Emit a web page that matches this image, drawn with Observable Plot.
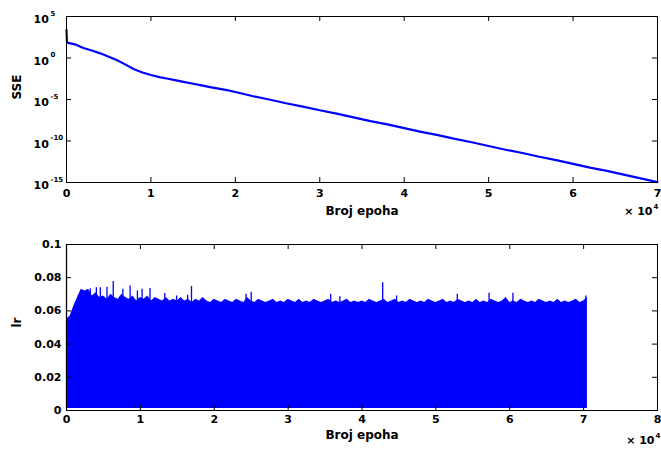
<!DOCTYPE html>
<html>
<head>
<meta charset="utf-8">
<script src="https://cdn.jsdelivr.net/npm/d3@7"></script>
<script src="https://cdn.jsdelivr.net/npm/@observablehq/plot@0.6"></script>
<style>
  html, body { margin: 0; padding: 0; background: #fff; }
  #chart { width: 661px; height: 449px; overflow: hidden; background: #fff; }
  #chart svg { display: block; }
</style>
</head>
<body>
<div id="chart"></div>
<script>
// ---------- data ----------
// Top panel: SSE per epoch (log scale); stored as base-10 exponents
const sseEpochs = [0, 60, 1000, 2000, 3000, 4000, 5000, 6000, 7000, 8000, 9000, 10000, 11000, 12000, 13000, 14000, 15000, 16000, 17000, 18000, 19000, 20000, 22000, 24000, 26000, 28000, 30000, 32000, 34000, 36000, 38000, 40000, 42000, 44000, 46000, 48000, 50000, 52000, 54000, 56000, 58000, 60000, 62000, 64000, 66000, 68000, 70000];
const sseExponents = [3.4, 1.85, 1.65, 1.2, 0.9, 0.56, 0.15, -0.28, -0.8, -1.36, -1.75, -2.05, -2.3, -2.5, -2.7, -2.9, -3.1, -3.3, -3.5, -3.68, -3.88, -4.1, -4.58, -5.0, -5.45, -5.85, -6.3, -6.7, -7.15, -7.6, -8.0, -8.45, -8.9, -9.3, -9.75, -10.15, -10.6, -11.05, -11.45, -11.9, -12.3, -12.75, -13.2, -13.6, -14.05, -14.5, -14.95];

// Bottom panel: learning-rate envelope, one value every 500 epochs (from epoch 0)
const lrStep = 500;
const lrEnvelope = [
  0.055,
  0.057, 0.063, 0.068, 0.073, 0.072, 0.073, 0.069, 0.071, 0.068, 0.069,
  0.067, 0.070, 0.068, 0.067, 0.070, 0.068, 0.067, 0.069, 0.066, 0.068,
  0.067, 0.069, 0.066, 0.068, 0.067, 0.066, 0.068, 0.066, 0.067, 0.066,
  0.068, 0.066, 0.067, 0.065, 0.067, 0.066, 0.068, 0.066, 0.065, 0.067,
  0.066, 0.065, 0.067, 0.066, 0.065, 0.067, 0.066, 0.065, 0.068, 0.066,
  0.065, 0.067, 0.066, 0.065, 0.066, 0.067, 0.065, 0.066, 0.065, 0.067,
  0.066, 0.065, 0.067, 0.065, 0.066, 0.065, 0.067, 0.066, 0.065, 0.066,
  0.067, 0.065, 0.066, 0.065, 0.066, 0.067, 0.065, 0.066, 0.065, 0.066,
  0.065, 0.067, 0.066, 0.065, 0.066, 0.067, 0.065, 0.066, 0.067, 0.065,
  0.066, 0.065, 0.067, 0.066, 0.065, 0.066, 0.065, 0.067, 0.066, 0.065,
  0.066, 0.067, 0.065, 0.066, 0.065, 0.067, 0.066, 0.065, 0.066, 0.065,
  0.067, 0.065, 0.066, 0.065, 0.067, 0.066, 0.065, 0.066, 0.068, 0.065,
  0.066, 0.065, 0.067, 0.066, 0.065, 0.066, 0.065, 0.067, 0.066, 0.065,
  0.066, 0.065, 0.067, 0.065, 0.066, 0.065, 0.066, 0.067, 0.065, 0.066,
  0.068
];
const lrFloor = 0.0012;
// individual tall spikes: epoch and lr
const spikeEpochs = [0, 3230, 4040, 4576, 5480, 6325, 7630, 8614, 9600, 10229, 11305, 13300, 14900, 16400, 16920, 24300, 25000, 35760, 37000, 42800, 44680, 52900, 57200, 60430, 70300];
const spikeValues = [0.1, 0.0733, 0.074, 0.074, 0.0743, 0.0777, 0.073, 0.075, 0.072, 0.073, 0.0735, 0.0705, 0.069, 0.0695, 0.0747, 0.070, 0.0713, 0.070, 0.0685, 0.0769, 0.069, 0.070, 0.0707, 0.0707, 0.069];

// axes
const topXTicks = [0, 10000, 20000, 30000, 40000, 50000, 60000, 70000];
const topYTicks = [1e5, 1e0, 1e-5, 1e-10, 1e-15];
const topYExponents = ["5", "0", "-5", "-10", "-15"];
const botXTicks = [0, 10000, 20000, 30000, 40000, 50000, 60000, 70000, 80000];
const botYTicks = [0, 0.02, 0.04, 0.06, 0.08, 0.1];
const botYLabels = ["0", "0.02", "0.04", "0.06", "0.08", "0.1"];
const xTitle = "Broj epoha";
const topYTitle = "SSE";
const botYTitle = "lr";
const xScaleBase = "× 10";
const xScaleExp = "4";

// ---------- build ----------
const sseData = sseEpochs.map((e, i) => ({epoch: e, sse: Math.pow(10, sseExponents[i])}));
const lrData = lrEnvelope.map((v, i) => ({epoch: i * lrStep, lr: v}));
const spikeData = spikeEpochs.map((e, i) => ({epoch: e, lr: spikeValues[i]}));
const topYLab = topYTicks.map((v, i) => ({v, exp: topYExponents[i]}));

const BLUE = "#0000ff";
const FONT = {fontFamily: "'DejaVu Sans', sans-serif", fontSize: "11px", fontWeight: "bold", background: "#fff", color: "#000", overflow: "visible"};

const W = 661;
const ML = 66, MR = 4;
const innerW = W - ML - MR;

// top panel
const H1 = 225, MT1 = 16, MB1 = 43;
const innerH1 = H1 - MT1 - MB1;
const topPanel = Plot.plot({
  width: W, height: H1,
  marginLeft: ML, marginRight: MR, marginTop: MT1, marginBottom: MB1,
  style: FONT,
  x: {domain: [0, 70000], ticks: topXTicks, tickSize: 0, tickPadding: 7, tickFormat: d => String(d / 10000), label: null},
  y: {type: "log", domain: [1e-15, 1e5], axis: null},
  marks: [
    Plot.line(sseData, {x: "epoch", y: "sse", stroke: BLUE, strokeWidth: 2.2}),
    Plot.frame({stroke: "#000"}),
    Plot.tickX(topXTicks.slice(1, -1), {x: d => d, insetTop: innerH1 - 5, stroke: "#000"}),
    Plot.tickX(topXTicks.slice(1, -1), {x: d => d, insetBottom: innerH1 - 5, stroke: "#000"}),
    Plot.tickY(topYTicks.slice(1, -1), {y: d => d, insetRight: innerW - 5, stroke: "#000"}),
    Plot.tickY(topYTicks.slice(1, -1), {y: d => d, insetLeft: innerW - 5, stroke: "#000"}),
    Plot.text(topYLab, {y: "v", text: () => "10", frameAnchor: "left", textAnchor: "start", dx: -33, dy: 3}),
    Plot.text(topYLab, {y: "v", text: "exp", frameAnchor: "left", textAnchor: "start", dx: -16, dy: -3, fontSize: 7}),
    Plot.text([topYTitle], {frameAnchor: "left", dx: -49, rotate: -90, fontSize: 12}),
    Plot.text([xTitle], {frameAnchor: "bottom", dy: 32, fontSize: 12}),
    Plot.text([xScaleBase], {frameAnchor: "bottom-right", textAnchor: "end", dx: -5, dy: 32}),
    Plot.text([xScaleExp], {frameAnchor: "bottom-right", textAnchor: "start", dx: -4, dy: 26, fontSize: 7})
  ]
});

// bottom panel
const H2 = 224, MT2 = 19, MB2 = 39;
const innerH2 = H2 - MT2 - MB2;
const bottomPanel = Plot.plot({
  width: W, height: H2,
  marginLeft: ML, marginRight: MR, marginTop: MT2, marginBottom: MB2,
  style: FONT,
  x: {domain: [0, 80000], ticks: botXTicks, tickSize: 0, tickPadding: 5, tickFormat: d => String(d / 10000), label: null},
  y: {domain: [0, 0.1], ticks: botYTicks, tickSize: 0, tickPadding: 5, tickFormat: d => botYLabels[botYTicks.indexOf(d)], label: null},
  marks: [
    Plot.areaY(lrData, {x: "epoch", y1: lrFloor, y2: "lr", fill: BLUE}),
    Plot.ruleX(spikeData, {x: "epoch", y1: lrFloor, y2: "lr", stroke: BLUE, strokeWidth: 1.3}),
    Plot.frame({stroke: "#000"}),
    Plot.tickX(botXTicks.slice(1, -1), {x: d => d, insetTop: innerH2 - 5, stroke: "#000"}),
    Plot.tickX(botXTicks.slice(1, -1), {x: d => d, insetBottom: innerH2 - 5, stroke: "#000"}),
    Plot.tickY(botYTicks.slice(1, -1), {y: d => d, insetRight: innerW - 5, stroke: "#000"}),
    Plot.tickY(botYTicks.slice(1, -1), {y: d => d, insetLeft: innerW - 5, stroke: "#000"}),
    Plot.text([botYTitle], {frameAnchor: "left", dx: -49, rotate: -90, fontSize: 12}),
    Plot.text([xTitle], {frameAnchor: "bottom", dy: 28, fontSize: 12}),
    Plot.text([xScaleBase], {frameAnchor: "bottom-right", textAnchor: "end", dx: -3, dy: 33}),
    Plot.text([xScaleExp], {frameAnchor: "bottom-right", textAnchor: "start", dx: -2, dy: 27, fontSize: 7})
  ]
});

const chart = document.getElementById("chart");
chart.appendChild(topPanel);
chart.appendChild(bottomPanel);
</script>
</body>
</html>
